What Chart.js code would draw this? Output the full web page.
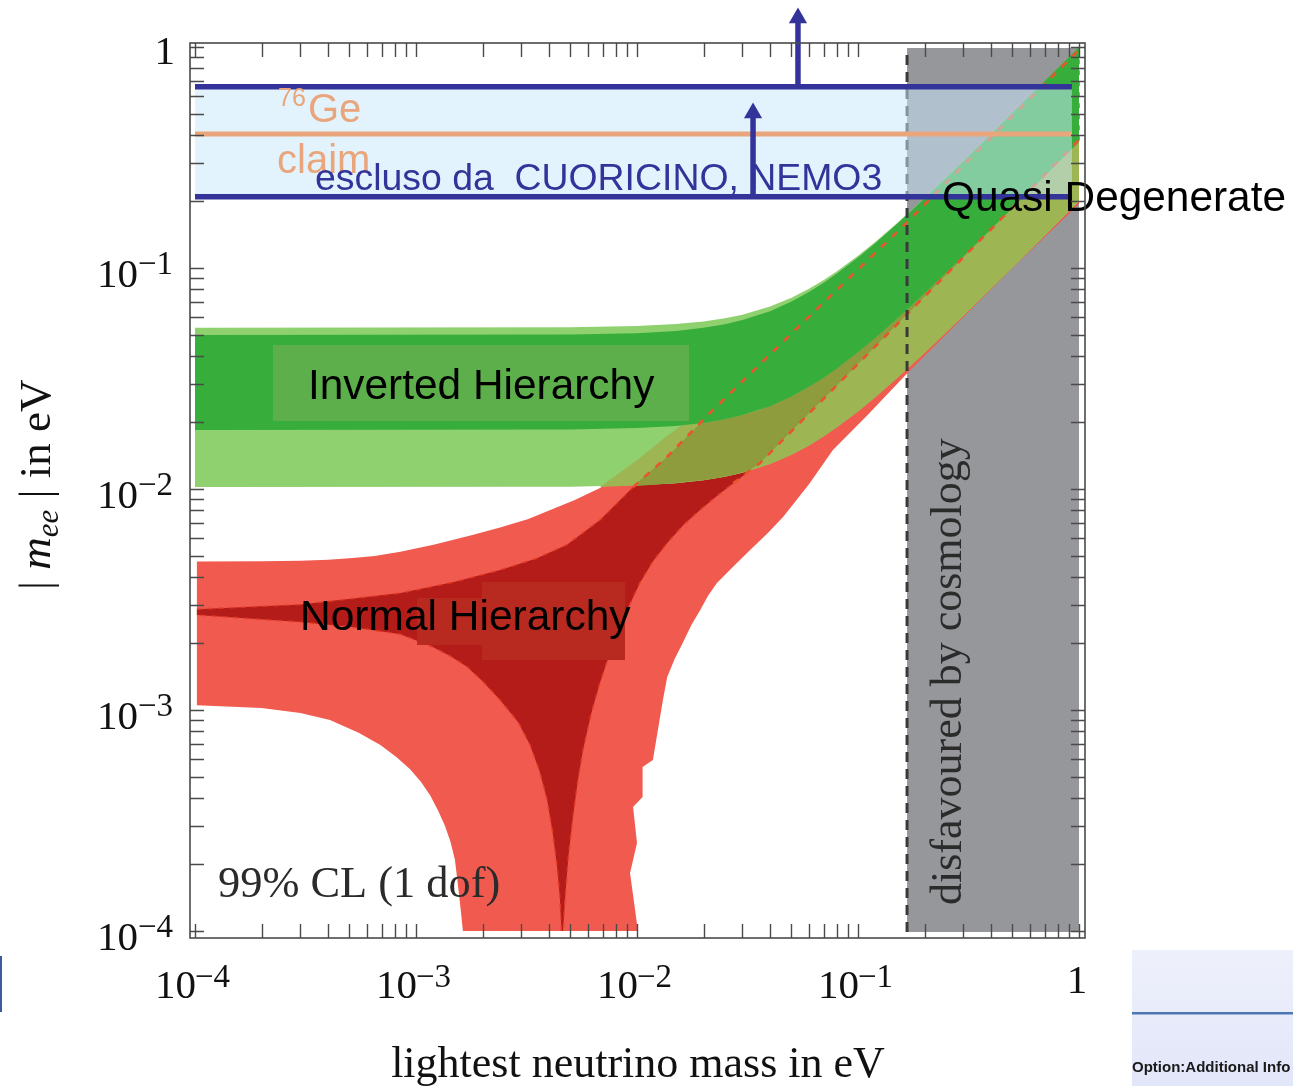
<!DOCTYPE html>
<html>
<head>
<meta charset="utf-8">
<title>|m_ee| vs lightest neutrino mass</title>
<script src="https://cdn.jsdelivr.net/npm/chart.js@4.4.1/dist/chart.umd.min.js"></script>
<style>
html,body{margin:0;padding:0;background:#ffffff;overflow:hidden;}
#wrap{position:relative;width:1293px;height:1086px;}
canvas{display:block;}
</style>
</head>
<body>
<div id="wrap"><canvas id="chart" width="1293" height="1086"></canvas></div>
<script>
// ================= DATA (eV) =================
const tickDecades = [1e-4, 1e-3, 1e-2, 1e-1, 1];
const tickExponents = ['\u22124', '\u22123', '\u22122', '\u22121', ''];
const minorMultipliers = [2, 3, 4, 5, 6, 7, 8, 9];
const xRange = [9.4926e-5, 1.06448];
const yFrame = [9.2972e-5, 1.04254];
const yRangeWithArrows = [9.2972e-5, 1.6318];

// Normal hierarchy, 99% CL outline (light red)
const nhOuterM = [1.02e-4, 2e-4, 3e-4, 4e-4, 5e-4, 6.5e-4, 8.5e-4, 0.0012, 0.0018, 0.0024, 0.0032, 0.004, 0.0052, 0.0068, 0.0085, 0.01, 0.014, 0.02, 0.03, 0.05, 0.1, 0.2, 0.5, 1.0,
  1.0, 0.883, 0.5, 0.3, 0.1667, 0.11, 0.077, 0.06, 0.0458, 0.039, 0.0325, 0.0275, 0.023, 0.021, 0.0193, 0.0176, 0.0161, 0.0148, 0.0137, 0.0131,
  0.0118, 0.0106, 0.0106, 0.0096, 0.0100, 0.0093, 0.0101,
  0.00163, 0.0016, 0.00155, 0.0015, 0.00143, 0.00135, 0.00126, 0.00116, 0.00105, 9.4e-4, 8.2e-4, 6.9e-4, 5.5e-4, 4.08e-4, 3e-4, 2e-4, 1.02e-4];
const nhOuterV = [0.0047, 0.00471, 0.00474, 0.00479, 0.00486, 0.00498, 0.0052, 0.0056, 0.0062, 0.0067, 0.0073, 0.0080, 0.0089, 0.0101, 0.0117, 0.0133, 0.0172, 0.0235, 0.0335, 0.052, 0.101, 0.2, 0.5, 1.0,
  0.195, 0.173, 0.1, 0.06, 0.0333, 0.0215, 0.015, 0.0105, 0.00747, 0.0063, 0.0053, 0.0045, 0.00376, 0.0033, 0.00283, 0.00242, 0.00201, 0.0017, 0.00141, 0.00111,
  5.94e-4, 5.52e-4, 4.04e-4, 3.64e-4, 2.5e-4, 1.83e-4, 1.0e-4,
  1.0e-4, 1.2e-4, 1.6e-4, 2.1e-4, 2.55e-4, 3.0e-4, 3.5e-4, 4.1e-4, 4.75e-4, 5.4e-4, 6.1e-4, 6.95e-4, 7.9e-4, 9e-4, 9.7e-4, 1.02e-3, 1.05e-3];

// Normal hierarchy, best-fit outline (dark red)
const nhInnerM = [1.02e-4, 2.99e-4, 8.5e-4, 0.0015, 0.0024, 0.0035, 0.00482, 0.0068, 0.0096, 0.0137, 0.0214, 0.05, 0.1667, 0.44, 1.0,
  1.0, 0.44, 0.036, 0.0272, 0.023, 0.0193, 0.0163, 0.0137, 0.0118, 0.0103, 0.0092, 0.00813, 0.0075, 0.0068, 0.0062, 0.0057, 0.0054, 0.00513, 0.0049, 0.00472, 0.00463,
  0.00455, 0.00448, 0.00435, 0.00415, 0.00392, 0.00362, 0.00328, 0.0029, 0.0024, 0.002, 0.0017, 0.00142, 0.00119, 8.5e-4, 5e-4, 2.99e-4, 1.02e-4];
const nhInnerV = [2.86e-3, 3.0e-3, 3.38e-3, 3.8e-3, 4.3e-3, 4.85e-3, 5.6e-3, 7.24e-3, 0.0102, 0.014, 0.0221, 0.0505, 0.161, 0.43, 0.97,
  0.38, 0.165, 0.0131, 0.0106, 0.0093, 0.00804, 0.0069, 0.0057, 0.0047, 0.00376, 0.00295, 0.00223, 0.00178, 0.00133, 9.6e-4, 6.59e-4, 4.8e-4, 3.28e-4, 2.2e-4, 1.38e-4, 1.0e-4,
  1.0e-4, 1.4e-4, 1.95e-4, 2.8e-4, 3.92e-4, 5.3e-4, 6.95e-4, 8.8e-4, 1.11e-3, 1.35e-3, 1.57e-3, 1.76e-3, 1.93e-3, 2.2e-3, 2.38e-3, 2.5e-3, 2.69e-3];

// shared mass grid for the inverted-hierarchy band edges
const ihGridM = [1e-4, 0.005, 0.01, 0.015, 0.02, 0.025, 0.03, 0.04, 0.05, 0.06, 0.07, 0.08, 0.1, 0.12, 0.15, 0.2, 0.3, 0.5, 0.7, 1.0];
// Inverted hierarchy, 99% CL (light green)
const ihOuterUpperV = [0.0537, 0.0539, 0.0546, 0.0558, 0.0573, 0.0592, 0.0615, 0.067, 0.0734, 0.0805, 0.0882, 0.0964, 0.1135, 0.1315, 0.1593, 0.2071, 0.3048, 0.5029, 0.702, 1.0];
const ihOuterLowerV = [0.0102, 0.01025, 0.0104, 0.01063, 0.01096, 0.01136, 0.01183, 0.01296, 0.01428, 0.01575, 0.01732, 0.01897, 0.02245, 0.02608, 0.03169, 0.04128, 0.06086, 0.1005, 0.1404, 0.2003];
// Inverted hierarchy, best fit (dark green)
const ihInnerUpperV = [0.0497, 0.0500, 0.0507, 0.0519, 0.0536, 0.0556, 0.0581, 0.0638, 0.0705, 0.0779, 0.0858, 0.0942, 0.1117, 0.1299, 0.158, 0.2061, 0.3041, 0.5025, 0.7018, 1.0];
const ihInnerLowerV = [0.0185, 0.0186, 0.0189, 0.0193, 0.0199, 0.0207, 0.0216, 0.0237, 0.0262, 0.029, 0.0319, 0.035, 0.0416, 0.0483, 0.0588, 0.0767, 0.1131, 0.1869, 0.2611, 0.372];

// overlap: IH 99% strip over NH 99% region (light olive)
const overlapLightM = [0.0068, 0.01, 0.0137, 0.016, 0.02, 0.025, 0.03, 0.04, 0.05, 0.06, 0.07, 0.08, 0.1, 0.12, 0.15, 0.2, 0.3, 0.5, 0.7, 1.0,
  1.0, 0.7, 0.5, 0.3, 0.2, 0.15, 0.12, 0.1, 0.08, 0.07, 0.06, 0.05, 0.04, 0.03, 0.025, 0.02, 0.015, 0.01];
const overlapLightV = [0.0102, 0.0135, 0.0174, 0.0195, 0.0199, 0.0207, 0.0216, 0.0237, 0.0262, 0.029, 0.0319, 0.035, 0.0416, 0.0483, 0.0588, 0.0767, 0.1131, 0.1869, 0.2611, 0.372,
  0.2003, 0.1404, 0.1005, 0.06086, 0.04128, 0.03169, 0.02608, 0.02245, 0.01897, 0.01732, 0.01575, 0.01428, 0.01296, 0.01183, 0.01136, 0.01096, 0.01063, 0.0104];

// overlap: IH 99% strip over NH best-fit region (dark olive)
const overlapDarkM = [0.0096, 0.0137, 0.0165, 0.0193, 0.025, 0.03, 0.036, 0.05, 0.07, 0.1, 0.15, 0.2, 0.3, 0.44,
  0.3, 0.2, 0.15, 0.1, 0.07, 0.05, 0.036, 0.032, 0.0272, 0.0214, 0.0137];
const overlapDarkV = [0.0103, 0.014, 0.0169, 0.0198, 0.0207, 0.0216, 0.0228, 0.0262, 0.0319, 0.0416, 0.0588, 0.0767, 0.1131, 0.1647,
  0.1117, 0.0743, 0.0555, 0.0368, 0.0257, 0.0183, 0.0131, 0.0121, 0.0116, 0.01106, 0.01056];

// NH best-fit edges seen through the green bands (dashed)
const nhUpperEdgeM = [0.0096, 0.0137, 0.0214, 0.05, 0.1667, 0.44, 1.0];
const nhUpperEdgeV = [0.0102, 0.014, 0.0221, 0.0505, 0.161, 0.43, 0.97];
const nhLowerEdgeM = [0.0272, 0.036, 0.44, 1.0];
const nhLowerEdgeV = [0.0106, 0.0131, 0.165, 0.38];

// cosmology-disfavoured region
const cosmoM = [0.1667, 1.0, 1.0, 0.1667];
const cosmoV = [0.9896, 0.9896, 9.9e-5, 9.9e-5];

// experimental bands
const bandM = [1e-4, 0.929];
const excludedUpper = 0.661;   // CUORICINO / NEMO3 line
const excludedLower = 0.210;
const geClaim = 0.404;          // 76Ge claim
const arrowM = [0.0535, 0.0335];
const arrowFromV = [0.661, 0.210];
const arrowHeadV = [1.353, 0.503];

// ================= BUILD =================
function pts(ms, vs) { return ms.map((m, i) => ({ x: m, y: vs[i] })); }
function band(ms, upper, lower) {
  return pts(ms.concat(ms.slice().reverse()), upper.concat(lower.slice().reverse()));
}
function poly(label, data, color, order, extra) {
  return Object.assign({
    label, data, fill: 'shape', backgroundColor: color,
    borderColor: 'rgba(0,0,0,0)', borderWidth: 0, pointRadius: 0, tension: 0, order
  }, extra || {});
}
function line(label, ms, vs, color, width, order, extra) {
  return Object.assign({
    label, data: pts(ms, vs), fill: false, backgroundColor: color,
    borderColor: color, borderWidth: width, pointRadius: 0, tension: 0, order,
    borderCapStyle: 'butt'
  }, extra || {});
}

const BLUE = '#34339a';
const ORANGE = '#e9a57b';

const datasets = [
  poly('cosmology', pts(cosmoM, cosmoV), '#96979b', 100),
  poly('NH 99%', pts(nhOuterM, nhOuterV), '#f15b4f', 90),
  poly('NH best', pts(nhInnerM, nhInnerV), '#b31c18', 80,
    { borderColor: 'rgba(232,60,40,0.85)', borderWidth: 1.6, borderDash: [5, 6] }),
  poly('IH 99%', band(ihGridM, ihOuterUpperV, ihOuterLowerV), '#8fd16f', 70),
  poly('overlap light', pts(overlapLightM, overlapLightV), '#9db553', 60),
  poly('overlap dark', pts(overlapDarkM, overlapDarkV), '#8e9c3e', 55),
  poly('IH best', band(ihGridM, ihInnerUpperV, ihInnerLowerV), '#37ad3c', 50),
  line('NH upper edge', nhUpperEdgeM, nhUpperEdgeV, '#e8552e', 2.6, 40, { borderDash: [7, 8] }),
  line('NH lower edge', nhLowerEdgeM, nhLowerEdgeV, '#e8552e', 2.6, 40, { borderDash: [7, 8] }),
  line('cosmo edge', [cosmoM[0], cosmoM[0]], [cosmoV[2], cosmoV[0]], '#3a3a3a', 3, 35, { borderDash: [10, 7] }),
  poly('excluded band', pts([bandM[0], bandM[1], bandM[1], bandM[0]],
    [excludedUpper, excludedUpper, excludedLower, excludedLower]), 'rgba(200,232,251,0.52)', 30),
  line('Ge claim', bandM, [geClaim, geClaim], ORANGE, 5, 25),
  line('excluded upper', bandM, [excludedUpper, excludedUpper], BLUE, 5.5, 20),
  line('excluded lower', bandM, [excludedLower, excludedLower], BLUE, 5.5, 20),
];
arrowM.forEach((m, i) => {
  datasets.push(line('arrow ' + i, [m, m], [arrowFromV[i], arrowHeadV[i]], BLUE, 5.5, 10, {
    pointStyle: 'triangle', pointRadius: [0, 10.5], pointBackgroundColor: BLUE,
    pointBorderWidth: 0, pointBorderColor: BLUE, clip: false
  }));
});

const SERIF = '"Liberation Serif","Times New Roman",serif';
const SANS = '"Liberation Sans",Arial,sans-serif';

function txt(ctx, s, x, y, font, color, align) {
  ctx.font = font; ctx.fillStyle = color; ctx.textAlign = align || 'left';
  ctx.textBaseline = 'alphabetic'; ctx.fillText(s, x, y);
}

const decor = {
  id: 'decor',
  afterDatasetsDraw(chart) {
    const ctx = chart.ctx;
    ctx.save();
    ctx.fillStyle = '#5daf4c';
    ctx.fillRect(273, 345, 416, 76);
    ctx.fillStyle = '#b8291f';
    ctx.fillRect(482, 582, 143, 78);
    ctx.fillRect(417, 598, 148, 47);
    txt(ctx, 'Inverted Hierarchy', 308, 399, '42.4px ' + SANS, '#000');
    txt(ctx, 'Normal Hierarchy', 300, 630, '42.5px ' + SANS, '#000');
    txt(ctx, 'Quasi Degenerate', 942, 211, '42.4px ' + SANS, '#000');
    txt(ctx, '76', 278, 106, '25px ' + SANS, ORANGE);
    txt(ctx, 'Ge', 308, 122, '40px ' + SANS, ORANGE);
    txt(ctx, 'claim', 277, 173, '40px ' + SANS, ORANGE);
    txt(ctx, 'escluso da  CUORICINO, NEMO3', 315, 190, '37.4px ' + SANS, BLUE);
    txt(ctx, '99% CL (1 dof)', 218, 897, '44.4px ' + SERIF, '#2b2b2b');
    ctx.save();
    ctx.translate(961, 905); ctx.rotate(-Math.PI / 2);
    txt(ctx, 'disfavoured by cosmology', 0, 0, '44px ' + SERIF, '#2b2b2b');
    ctx.restore();
    ctx.restore();
  },
  afterDraw(chart) {
    const ctx = chart.ctx, xs = chart.scales.x, ys = chart.scales.y;
    const X = v => xs.getPixelForValue(v), Y = v => ys.getPixelForValue(v);
    const L = X(xRange[0]), R = X(xRange[1]), T = Y(yFrame[1]), B = Y(yFrame[0]);
    ctx.save();
    ctx.strokeStyle = '#4a4a4a'; ctx.lineWidth = 1.6;
    ctx.strokeRect(L, T, R - L, B - T);
    const vals = [];
    tickDecades.forEach((d, i) => {
      vals.push(d);
      if (i < tickDecades.length - 1) minorMultipliers.forEach(k => vals.push(k * d));
    });
    ctx.lineWidth = 1.4; ctx.beginPath();
    vals.forEach(v => {
      const px = Math.round(X(v)) + 0.5, py = Math.round(Y(v)) + 0.5;
      ctx.moveTo(px, B); ctx.lineTo(px, B - 14);
      ctx.moveTo(px, T); ctx.lineTo(px, T + 14);
      ctx.moveTo(L, py); ctx.lineTo(L + 14, py);
      ctx.moveTo(R, py); ctx.lineTo(R - 14, py);
    });
    ctx.stroke();
    tickDecades.forEach((d, i) => {
      const px = X(d), py = Y(d);
      if (tickExponents[i]) {
        txt(ctx, '10', px + 1, 998, '41px ' + SERIF, '#111', 'right');
        txt(ctx, tickExponents[i], px, 987, '33px ' + SERIF, '#111', 'left');
        ctx.font = '33px ' + SERIF;
        const w = ctx.measureText(tickExponents[i]).width;
        txt(ctx, tickExponents[i], 173, py + 6, '33px ' + SERIF, '#111', 'right');
        txt(ctx, '10', 173 - w, py + 19, '41px ' + SERIF, '#111', 'right');
      } else {
        txt(ctx, '1', px - 2, 993, '41px ' + SERIF, '#111', 'center');
        txt(ctx, '1', 175, py + 17, '41px ' + SERIF, '#111', 'right');
      }
    });
    txt(ctx, 'lightest neutrino mass in eV', 638, 1077, '44px ' + SERIF, '#111', 'center');
    ctx.save();
    ctx.translate(50, 590); ctx.rotate(-Math.PI / 2);
    let cx = 0;
    const seg = (s, font, dy) => { ctx.font = font; ctx.fillStyle = '#111'; ctx.textAlign = 'left'; ctx.fillText(s, cx, dy); cx += ctx.measureText(s).width; };
    seg('| ', '45px ' + SERIF, 0);
    seg('m', 'italic 45px ' + SERIF, 0);
    seg('ee', 'italic 31px ' + SERIF, 8);
    seg(' | in eV', '45px ' + SERIF, 0);
    ctx.restore();
    // slide residue at the bottom edge
    ctx.fillStyle = '#3b5aa0'; ctx.fillRect(0, 956, 2, 56);
    const g = ctx.createLinearGradient(0, 950, 0, 1086);
    g.addColorStop(0, '#eef0fb'); g.addColorStop(1, '#e2e6f9');
    ctx.fillStyle = g; ctx.fillRect(1132, 950, 161, 136);
    ctx.fillStyle = '#4b78b2'; ctx.fillRect(1132, 1012, 161, 2.5);
    txt(ctx, 'Option:Additional Info', 1132, 1072, 'bold 15px ' + SANS, '#1a1a1a');
    ctx.restore();
  }
};

new Chart(document.getElementById('chart'), {
  type: 'line',
  data: { datasets },
  options: {
    responsive: false, animation: false, devicePixelRatio: 1, events: [],
    layout: { autoPadding: false, padding: { left: 190, right: 208, top: 0, bottom: 148 } },
    elements: { point: { radius: 0 }, line: { tension: 0 } },
    plugins: { legend: { display: false }, tooltip: { enabled: false }, title: { display: false } },
    scales: {
      x: { type: 'logarithmic', min: xRange[0], max: xRange[1], display: false, bounds: 'data' },
      y: { type: 'logarithmic', min: yRangeWithArrows[0], max: yRangeWithArrows[1], display: false, bounds: 'data' }
    }
  },
  plugins: [decor]
});
</script>
</body>
</html>
